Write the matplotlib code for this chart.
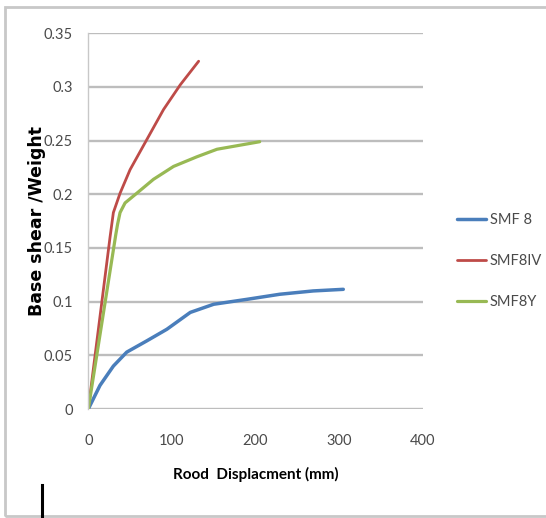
import matplotlib
matplotlib.use("Agg")
import matplotlib.pyplot as plt
from matplotlib.patches import Rectangle
from matplotlib.lines import Line2D

# values
smf8_x = [0, 14, 30, 46, 70, 94, 122, 150, 190, 229, 269, 305]
smf8_y = [0, 0.022, 0.040, 0.053, 0.0635, 0.0743, 0.090, 0.0976, 0.1022, 0.1069, 0.110, 0.1115]

smf8iv_x = [0, 26, 30, 38, 50, 70, 90, 110, 132]
smf8iv_y = [0, 0.160, 0.183, 0.201, 0.223, 0.251, 0.279, 0.302, 0.324]

smf8y_x = [0, 33, 35, 38, 44, 58, 78, 102, 130, 154, 205]
smf8y_y = [0, 0.163, 0.172, 0.183, 0.192, 0.201, 0.214, 0.226, 0.235, 0.242, 0.249]

x_ticks = [0, 100, 200, 300, 400]
y_ticks = [0, 0.05, 0.1, 0.15, 0.2, 0.25, 0.3, 0.35]
y_tick_labels = ["0", "0.05", "0.1", "0.15", "0.2", "0.25", "0.3", "0.35"]

narrow = ["Liberation Sans Narrow", "Lato", "DejaVu Sans"]
text_color = "#4a4a4a"

fig = plt.figure(figsize=(5.46, 5.18), dpi=100)
ax = fig.add_axes([0.1617, 0.2104, 0.6125, 0.7253])

ax.plot(smf8_x, smf8_y, color="#4a7ebb", lw=2.5, label="SMF 8", solid_capstyle="round")
ax.plot(smf8iv_x, smf8iv_y, color="#be4b48", lw=2.0, label="SMF8IV", solid_capstyle="round")
ax.plot(smf8y_x, smf8y_y, color="#98b954", lw=2.3, label="SMF8Y", solid_capstyle="round")

ax.set_xlim(0, 400)
ax.set_ylim(0, 0.35)
ax.set_xticks(x_ticks)
ax.set_yticks(y_ticks)
ax.set_yticklabels(y_tick_labels)
ax.grid(axis="y", color="#bdbdbd", lw=1.7)
ax.set_axisbelow(True)
for side in ["top", "right", "bottom"]:
    ax.spines[side].set_visible(False)
ax.spines["left"].set_color("#c8c8c8")
ax.spines["left"].set_linewidth(1.0)
ax.tick_params(length=0, colors=text_color)
ax.tick_params(axis="y", pad=11)
ax.tick_params(axis="x", pad=18)
for lab in ax.get_xticklabels() + ax.get_yticklabels():
    lab.set_family(narrow)
    lab.set_fontsize(10.5)

ax.set_xlabel("Rood  Displacment (mm)", family=narrow, fontweight="bold",
              fontsize=11, color="black")
ax.xaxis.set_label_coords(0.5, -0.155)
ax.set_ylabel("Base shear /Weight", fontweight="bold", fontsize=12.5, color="black")
ax.yaxis.set_label_coords(-0.127, 0.5)

leg = fig.legend(loc="center left", bbox_to_anchor=(457 / 546, 1 - 261 / 518), frameon=False,
                 handlelength=2.0, handletextpad=0.25, labelspacing=1.85,
                 borderpad=0, borderaxespad=0,
                 prop={"family": narrow, "size": 10.5})
for t in leg.get_texts():
    t.set_color(text_color)

# picture frame and the small black bar at the bottom left
fig.patches.append(Rectangle((5 / 546, 2 / 518), 1.0, 1 - 9 / 518, transform=fig.transFigure,
                             fill=False, edgecolor="#c8c8c8", lw=2.0))
fig.lines.append(Line2D([42 / 546, 42 / 546], [0, 33 / 518], transform=fig.transFigure,
                        color="black", lw=2.2))

fig.savefig("out.png", dpi=100)
